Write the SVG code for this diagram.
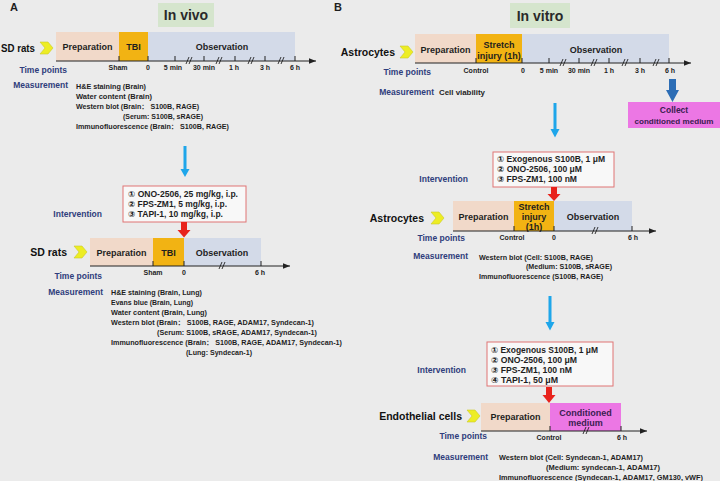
<svg xmlns="http://www.w3.org/2000/svg" width="720" height="481" viewBox="0 0 720 481">
<defs>
<style>
text{font-family:"Liberation Sans","DejaVu Sans","Noto Sans CJK SC",sans-serif;font-weight:bold;fill:#1e1e1e}
.lbl{font-size:8.5px;fill:#2f3d7c;text-anchor:end}
.name{font-size:10.5px;text-anchor:end;fill:#111}
.box{font-size:9px;text-anchor:middle}
.tk{font-size:7px;text-anchor:middle}
.ms{font-size:7px}
.iv{font-size:8.5px}
.hdr{font-size:14px;text-anchor:middle;fill:#2a2a2a}
.prep{fill:#f1d9c9}
.tbi{fill:#f2b313}
.obs{fill:#d3dae8}
.mag{fill:#ec77e4}
.chev{fill:#eded24;stroke:#c9c92a;stroke-width:0.6}
.axis{stroke:#222;stroke-width:1;fill:none}
.brk{stroke:#222;stroke-width:0.9;fill:none}
.ibox{fill:#f8f8f8;stroke:#e07575;stroke-width:1}
.blue{fill:#1ea6ea}
.red{fill:#e8231c}
.dblue{fill:#2c6db5}
</style>
<marker id="ah" viewBox="0 0 10 10" refX="10" refY="5" markerWidth="7" markerHeight="7" orient="auto" markerUnits="userSpaceOnUse">
<path d="M0,1 L10,5 L0,9 z" fill="#222"/>
</marker>
<path id="chv" d="M0,0 L8,0 L13,6 L8,12 L0,12 L5,6 z"/>
</defs>
<rect width="720" height="481" fill="#ebebeb"/>

<!-- Panel A header -->
<g id="panelA-label"><text x="10" y="11" style="font-size:11px">A</text></g>
<g id="invivo-header"><rect x="158" y="3" width="56" height="24" fill="#d5e5cd"/><text class="hdr" x="186" y="20">In vivo</text></g>

<!-- A row 1 -->
<g id="A1-sdrats"><text x="1" y="52" style="font-size:10.5px;fill:#111" textLength="34" lengthAdjust="spacingAndGlyphs">SD rats</text><use href="#chv" class="chev" x="40" y="42"/></g>
<g id="A1-prep"><rect class="prep" x="56" y="32" width="63" height="29"/><text class="box" x="87.5" y="50">Preparation</text></g>
<g id="A1-tbi"><rect class="tbi" x="119" y="32" width="29" height="29"/><text class="box" x="133.5" y="50">TBI</text></g>
<g id="A1-obs"><rect class="obs" x="148" y="32" width="147" height="29"/><text class="box" x="222" y="50">Observation</text></g>
<g id="A1-axis">
<path class="axis" d="M56,61 H316" marker-end="url(#ah)"/>
<path class="axis" d="M119,56V61M148,56V61M175,56V61M204,56V61M235,56V61M265,56V61M295,56V61"/>
<path class="brk" d="M186,64L189,57M189,64L192,57M216,64L219,57M219,64L222,57M248,64L251,57M251,64L254,57M278,64L281,57M281,64L284,57"/>
<text class="tk" x="118" y="70">Sham</text><text class="tk" x="148" y="70">0</text><text class="tk" x="173" y="70">5 min</text><text class="tk" x="204" y="70">30 min</text><text class="tk" x="234" y="70">1 h</text><text class="tk" x="265" y="70">3 h</text><text class="tk" x="295" y="70">6 h</text>
</g>
<g id="A1-timepoints"><text class="lbl" x="67" y="73">Time points</text></g>
<g id="A1-measurement">
<text class="lbl" x="68" y="88">Measurement</text>
<text class="ms" x="76" y="88.5" textLength="70" lengthAdjust="spacingAndGlyphs">H&amp;E staining (Brain)</text>
<text class="ms" x="76" y="98.5" textLength="76" lengthAdjust="spacingAndGlyphs">Water content (Brain)</text>
<text class="ms" x="76" y="109" textLength="123" lengthAdjust="spacingAndGlyphs">Western blot (Brain： S100B, RAGE)</text>
<text class="ms" x="123" y="118.5" textLength="80" lengthAdjust="spacingAndGlyphs">(Serum: S100B, sRAGE)</text>
<text class="ms" x="76" y="129" textLength="153" lengthAdjust="spacingAndGlyphs">Immunofluorescence (Brain： S100B, RAGE)</text>
</g>

<!-- A intervention -->
<g id="A-intervention">
<text class="lbl" x="102" y="217">Intervention</text>
<rect class="ibox" x="123" y="186" width="123" height="36"/>
<text class="iv" x="128" y="197" textLength="110" lengthAdjust="spacingAndGlyphs">① ONO-2506, 25 mg/kg, i.p.</text>
<text class="iv" x="128" y="207" textLength="99" lengthAdjust="spacingAndGlyphs">② FPS-ZM1, 5 mg/kg, i.p.</text>
<text class="iv" x="128" y="217" textLength="95" lengthAdjust="spacingAndGlyphs">③ TAPI-1, 10 mg/kg, i.p.</text>
</g>

<!-- A row 2 -->
<g id="A2-sdrats"><text class="name" x="67" y="256">SD rats</text><use href="#chv" class="chev" x="74" y="246"/></g>
<g id="A2-prep"><rect class="prep" x="90" y="238" width="63" height="28"/><text class="box" x="121.5" y="256">Preparation</text></g>
<g id="A2-tbi"><rect class="tbi" x="153" y="238" width="31" height="28"/><text class="box" x="168.5" y="256">TBI</text></g>
<g id="A2-obs"><rect class="obs" x="184" y="238" width="77" height="28"/><text class="box" x="222" y="256">Observation</text></g>
<g id="A2-axis">
<path class="axis" d="M90,266 H290" marker-end="url(#ah)"/>
<path class="axis" d="M153,261V266M184,261V266M261,261V266"/>
<path class="brk" d="M219,269L222,262M222,269L225,262"/>
<text class="tk" x="153" y="275">Sham</text><text class="tk" x="184" y="275">0</text><text class="tk" x="260" y="275">6 h</text>
</g>
<g id="A2-timepoints"><text class="lbl" x="102" y="279">Time points</text></g>
<g id="A2-measurement">
<text class="lbl" x="103" y="295">Measurement</text>
<text class="ms" x="111" y="294.5" textLength="91" lengthAdjust="spacingAndGlyphs">H&amp;E staining (Brain, Lung)</text>
<text class="ms" x="111" y="304.5" textLength="82" lengthAdjust="spacingAndGlyphs">Evans blue (Brain, Lung)</text>
<text class="ms" x="111" y="315" textLength="96" lengthAdjust="spacingAndGlyphs">Water content (Brain, Lung)</text>
<text class="ms" x="111" y="324.5" textLength="203" lengthAdjust="spacingAndGlyphs">Western blot (Brain： S100B, RAGE, ADAM17, Syndecan-1)</text>
<text class="ms" x="157" y="334.5" textLength="160" lengthAdjust="spacingAndGlyphs">(Serum: S100B, sRAGE, ADAM17, Syndecan-1)</text>
<text class="ms" x="111" y="344.5" textLength="231" lengthAdjust="spacingAndGlyphs">Immunofluorescence (Brain： S100B, RAGE, ADAM17, Syndecan-1)</text>
<text class="ms" x="186" y="354.5" textLength="66" lengthAdjust="spacingAndGlyphs">(Lung: Syndecan-1)</text>
</g>

<!-- Panel B header -->
<g id="panelB-label"><text x="334" y="11" style="font-size:11px">B</text></g>
<g id="invitro-header"><rect x="510" y="3" width="60" height="25" fill="#d5e5cd"/><text class="hdr" x="540" y="21">In vitro</text></g>

<!-- B row 1 -->
<g id="B1-astro"><text class="name" x="395" y="56">Astrocytes</text><use href="#chv" class="chev" x="400" y="46"/></g>
<g id="B1-prep"><rect class="prep" x="415" y="34" width="61" height="29"/><text class="box" x="445.5" y="53">Preparation</text></g>
<g id="B1-stretch"><rect class="tbi" x="476" y="34" width="46" height="29"/><text class="box" x="499" y="48">Stretch</text><text class="box" x="499" y="59">injury (1h)</text></g>
<g id="B1-obs"><rect class="obs" x="522" y="34" width="147" height="29"/><text class="box" x="596" y="53">Observation</text></g>
<g id="B1-axis">
<path class="axis" d="M415,63 H691" marker-end="url(#ah)"/>
<path class="axis" d="M476,58V63M522,58V63M549,58V63M579,58V63M609,58V63M640,58V63M669,58V63"/>
<path class="brk" d="M560,66L563,59M563,66L566,59M591,66L594,59M594,66L597,59M622,66L625,59M625,66L628,59M653,66L656,59M656,66L659,59"/>
<text class="tk" x="476" y="73">Control</text><text class="tk" x="523" y="73">0</text><text class="tk" x="549" y="73">5 min</text><text class="tk" x="579" y="73">30 min</text><text class="tk" x="609" y="73">1 h</text><text class="tk" x="640" y="73">3 h</text><text class="tk" x="670" y="73">6 h</text>
</g>
<g id="B1-timepoints"><text class="lbl" x="431" y="75">Time points</text></g>
<g id="B1-measurement"><text class="lbl" x="434" y="95">Measurement</text><text x="439" y="95" style="font-size:8px" textLength="46" lengthAdjust="spacingAndGlyphs">Cell viability</text></g>
<g id="B-collect"><rect class="mag" x="628" y="102" width="92" height="26"/><text class="box" x="674" y="113" style="font-size:8.5px;fill:#3a2050">Collect</text><text class="box" x="674" y="124" style="font-size:8px;fill:#3a2050" textLength="79" lengthAdjust="spacingAndGlyphs">conditioned medium</text></g>

<!-- B intervention 1 -->
<g id="B1-intervention">
<text class="lbl" x="468" y="182">Intervention</text>
<rect class="ibox" x="493" y="152" width="121" height="35"/>
<text class="iv" x="497" y="162" textLength="108" lengthAdjust="spacingAndGlyphs">① Exogenous S100B, 1 μM</text>
<text class="iv" x="497" y="172" textLength="85" lengthAdjust="spacingAndGlyphs">② ONO-2506, 100 μM</text>
<text class="iv" x="497" y="182" textLength="80" lengthAdjust="spacingAndGlyphs">③ FPS-ZM1, 100 nM</text>
</g>

<!-- B row 2 -->
<g id="B2-astro"><text class="name" x="424" y="222">Astrocytes</text><use href="#chv" class="chev" x="431" y="212"/></g>
<g id="B2-prep"><rect class="prep" x="453" y="201" width="61" height="30"/><text class="box" x="483.5" y="220">Preparation</text></g>
<g id="B2-stretch"><rect class="tbi" x="514" y="201" width="40" height="30"/><text class="box" x="534" y="210">Stretch</text><text class="box" x="534" y="220">injury</text><text class="box" x="534" y="230">(1h)</text></g>
<g id="B2-obs"><rect class="obs" x="554" y="201" width="78" height="30"/><text class="box" x="593" y="220">Observation</text></g>
<g id="B2-axis">
<path class="axis" d="M453,231 H656" marker-end="url(#ah)"/>
<path class="axis" d="M514,226V231M554,226V231M632,226V231"/>
<path class="brk" d="M592,234L595,227M595,234L598,227"/>
<text class="tk" x="512" y="240">Control</text><text class="tk" x="554" y="240">0</text><text class="tk" x="633" y="240">6 h</text>
</g>
<g id="B2-timepoints"><text class="lbl" x="465" y="241">Time points</text></g>
<g id="B2-measurement">
<text class="lbl" x="468" y="259">Measurement</text>
<text class="ms" x="479" y="259.5" textLength="114" lengthAdjust="spacingAndGlyphs">Western blot (Cell: S100B, RAGE)</text>
<text class="ms" x="526" y="268.5" textLength="86" lengthAdjust="spacingAndGlyphs">(Medium: S100B, sRAGE)</text>
<text class="ms" x="479" y="278.5" textLength="124" lengthAdjust="spacingAndGlyphs">Immunofluorescence (S100B, RAGE)</text>
</g>

<!-- B intervention 2 -->
<g id="B3-intervention">
<text class="lbl" x="466" y="373">Intervention</text>
<rect class="ibox" x="487" y="342" width="126" height="44"/>
<text class="iv" x="491" y="353" textLength="107" lengthAdjust="spacingAndGlyphs">① Exogenous S100B, 1 μM</text>
<text class="iv" x="491" y="363" textLength="86" lengthAdjust="spacingAndGlyphs">② ONO-2506, 100 μM</text>
<text class="iv" x="491" y="373" textLength="81" lengthAdjust="spacingAndGlyphs">③ FPS-ZM1, 100 nM</text>
<text class="iv" x="491" y="383" textLength="67" lengthAdjust="spacingAndGlyphs">④ TAPI-1, 50 μM</text>
</g>

<!-- B row 3 -->
<g id="B3-endo"><text class="name" x="462" y="420">Endothelial cells</text><use href="#chv" class="chev" x="467" y="410"/></g>
<g id="B3-prep"><rect class="prep" x="481" y="403" width="69" height="28"/><text class="box" x="515.5" y="420">Preparation</text></g>
<g id="B3-cond"><rect class="mag" x="550" y="403" width="71" height="28"/><text class="box" x="585.5" y="416" style="fill:#3a2050">Conditioned</text><text class="box" x="585.5" y="426" style="fill:#3a2050">medium</text></g>
<g id="B3-axis">
<path class="axis" d="M481,431 H647" marker-end="url(#ah)"/>
<path class="axis" d="M550,426V431M621,426V431"/>
<path class="brk" d="M583,434L586,427M586,434L589,427"/>
<text class="tk" x="549" y="440">Control</text><text class="tk" x="622" y="440">6 h</text>
</g>
<g id="B3-timepoints"><text class="lbl" x="487" y="439">Time points</text></g>
<g id="B3-measurement">
<text class="lbl" x="488" y="460">Measurement</text>
<text class="ms" x="499" y="460" textLength="144" lengthAdjust="spacingAndGlyphs">Western blot (Cell: Syndecan-1, ADAM17)</text>
<text class="ms" x="546" y="470" textLength="114" lengthAdjust="spacingAndGlyphs">(Medium: syndecan-1, ADAM17)</text>
<text class="ms" x="499" y="480" textLength="204" lengthAdjust="spacingAndGlyphs">Immunofluorescence (Syndecan-1, ADAM17, GM130, vWF)</text>
</g>

<!-- connectors -->
<g id="connectors">
<path class="blue" d="M183.5,146 H186.5 V169 H189.5 L185,177 L180.5,169 H183.5 z"/>
<path class="red" d="M181,222 H187 V230 H190.5 L184,237.5 L177.5,230 H181 z"/>
<path class="blue" d="M553.5,103 H556.5 V129 H559.5 L555,137.5 L550.5,129 H553.5 z"/>
<path class="red" d="M551,187 H557 V194 H560.5 L554,201 L547.5,194 H551 z"/>
<path class="blue" d="M548.5,296 H551.5 V322 H554.5 L550,330.5 L545.5,322 H548.5 z"/>
<path class="red" d="M546,387 H552 V395 H555.5 L549,403 L542.5,395 H546 z"/>
<path class="dblue" d="M669,79 H676 V90 H679 L672.5,102 L666,90 H669 z"/>
</g>
</svg>
